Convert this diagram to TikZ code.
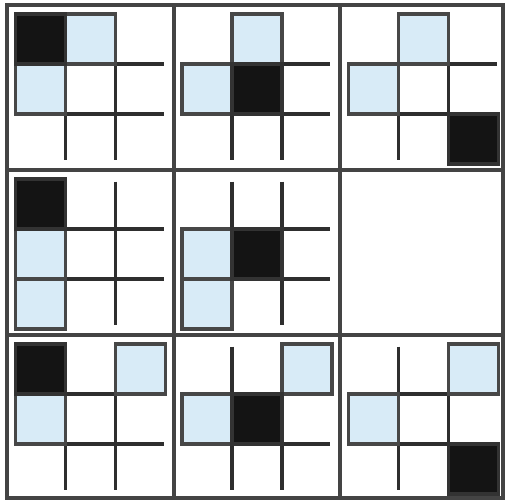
\documentclass[tikz,border=0pt]{standalone}
\usepackage{xcolor}
\usetikzlibrary{positioning, calc}
\definecolor{cellblue}{HTML}{D8EBF7}
\definecolor{framegray}{HTML}{444444}

\begin{document}
\begin{tikzpicture}[x=1cm, y=-1cm,
    gridline/.style={line width=1.8pt, draw=black!82},
    visited/.style={fill=cellblue, draw=black!72, line width=1.8pt},
    current/.style={fill=black!92, draw=black!80, line width=1.8pt},
    frameline/.style={line width=2.3pt, draw=framegray}]
    \useasboundingbox (0,0) rectangle (10.12,10.04);
    % panel column / row / current cell / visited cells
    \foreach \pc/\pr/\cx/\cy/\vis in {
        0/0/0/0/{1/0,0/1}, 1/0/1/1/{1/0,0/1}, 2/0/2/2/{1/0,0/1},
        0/1/0/0/{0/1,0/2}, 1/1/1/1/{0/1,0/2},
        0/2/0/0/{2/0,0/1}, 1/2/1/1/{2/0,0/1}, 2/2/2/2/{2/0,0/1}}
    {
        \begin{scope}[shift={(0.31+3.33*\pc, 0.28+3.3*\pr)}]
            \draw[gridline] (1,0.05) -- (1,2.92) (2,0.05) -- (2,2.92)
                (0,1) -- (2.97,1) (0,2) -- (2.97,2);
            \foreach \vx/\vy in \vis
                \draw[visited] (\vx,\vy) rectangle ++(1,1);
            \draw[current] (\cx,\cy) rectangle ++(1,1);
        \end{scope}
    }
    % outer frame and panel dividers
    \draw[frameline] (0.14,0.10) rectangle (10.06,9.96);
    \draw[frameline] (3.48,0.10) -- (3.48,9.96) (6.80,0.10) -- (6.80,9.96)
        (0.14,3.40) -- (10.06,3.40) (0.14,6.70) -- (10.06,6.70);
\end{tikzpicture}
\end{document}
